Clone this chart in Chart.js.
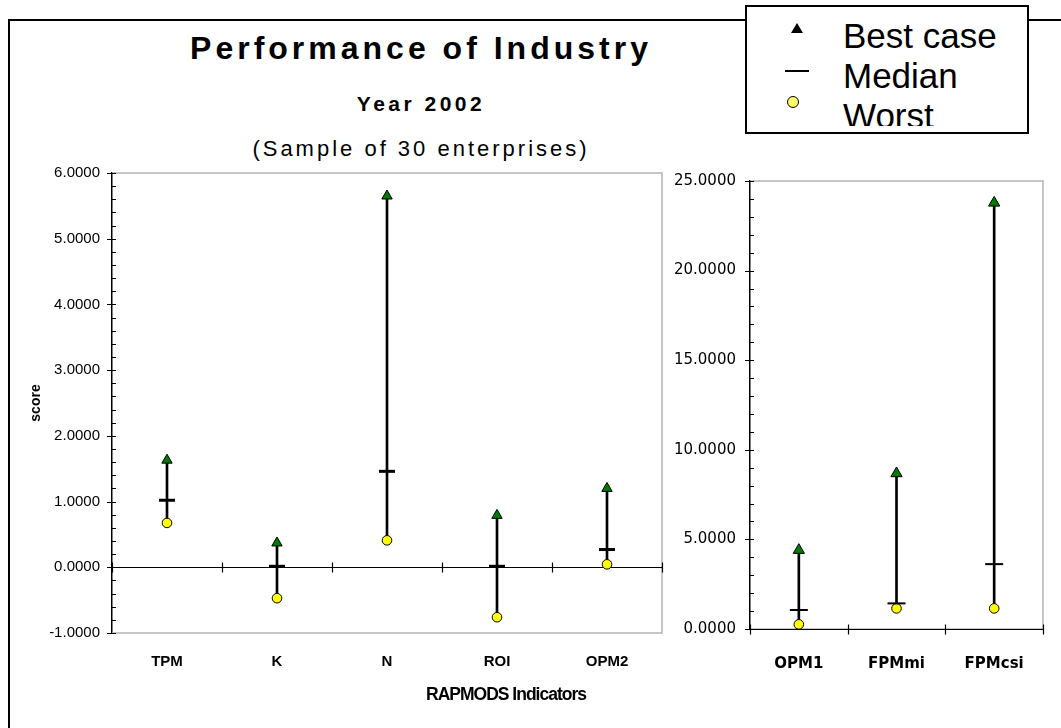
<!DOCTYPE html>
<html>
<head>
<meta charset="utf-8">
<title>Performance of Industry</title>
<script src="https://cdn.jsdelivr.net/npm/chart.js@4.4.1/dist/chart.umd.min.js"></script>
<style>
  html, body { margin: 0; padding: 0; background: #fff; }
  body { width: 1061px; height: 728px; position: relative; overflow: hidden; font-family: "Liberation Sans", Arial, sans-serif; }
  .frame { position: absolute; left: 8px; top: 19px; width: 1100px; height: 800px; border-left: 2px solid #000; border-top: 2px solid #000; }
  .ttl { position: absolute; left: 0; width: 842px; text-align: center; color: #000; white-space: nowrap; }
  #t1 { top: 30px; font-size: 32px; font-weight: bold; letter-spacing: 4px; }
  #t2 { top: 92px; font-size: 21px; font-weight: bold; letter-spacing: 3.5px; }
  #t3 { top: 136px; font-size: 22px; letter-spacing: 3px; }
  #xtitle { position: absolute; left: 350px; width: 312px; top: 684px; text-align: center; font-size: 17.5px; font-weight: bold; letter-spacing: -1px; }
  canvas { position: absolute; }
  #legend { position: absolute; left: 745px; top: 5px; width: 280px; height: 125px; border: 2px solid #000; background: #fff; z-index: 5; }
  #legend .clip { position: absolute; left: 0; top: 0; width: 280px; height: 119px; overflow: hidden; }
  .li { position: absolute; left: 96px; font-size: 35px; line-height: 35px; white-space: nowrap; }
  .tri { position: absolute; width: 0; height: 0; border-left: 6px solid transparent; border-right: 6px solid transparent; border-bottom: 10px solid #000; }
  .dash { position: absolute; width: 24px; height: 2px; background: #000; }
  .dot { position: absolute; width: 10px; height: 10px; border-radius: 50%; background: #ffff66; border: 1px solid #000; }
</style>
</head>
<body>
<div class="frame"></div>
<div class="ttl" id="t1">Performance of Industry</div>
<div class="ttl" id="t2">Year 2002</div>
<div class="ttl" id="t3">(Sample of 30 enterprises)</div>

<canvas id="leftChart" width="680" height="578" style="left:0;top:150px"></canvas>
<canvas id="rightChart" width="391" height="578" style="left:670px;top:150px"></canvas>
<div id="xtitle">RAPMODS Indicators</div>

<div id="legend">
  <div class="clip">
    <div class="tri" style="left:44px;top:16px"></div>
    <div class="li" style="top:11px">Best case</div>
    <div class="dash" style="left:38px;top:63px"></div>
    <div class="li" style="top:51px">Median</div>
    <div class="dot" style="left:40px;top:89px"></div>
    <div class="li" style="top:91px">Worst</div>
  </div>
</div>

<script>
// left panel
var leftCategories = ['TPM', 'K', 'N', 'ROI', 'OPM2'];
var leftBest = [1.63, 0.37, 5.65, 0.79, 1.20];
var leftMedian = [1.02, 0.015, 1.46, 0.015, 0.27];
var leftWorst = [0.675, -0.47, 0.41, -0.76, 0.045];
var leftTicks = [-1, 0, 1, 2, 3, 4, 5, 6];

// right panel
var rightCategories = ['OPM1', 'FPMmi', 'FPMcsi'];
var rightBest = [4.40, 8.68, 23.78];
var rightMedian = [1.06, 1.43, 3.62];
var rightWorst = [0.26, 1.15, 1.15];
var rightTicks = [0, 5, 10, 15, 20, 25];

// excel-like frame, cross ticks and zero line
var excelAxes = {
    id: 'excelAxes',
    beforeDatasetsDraw: function (chart, args, opts) {
        var ctx = chart.ctx, a = chart.chartArea;
        var x = chart.scales.x, y = chart.scales.y;
        ctx.save();
        ctx.strokeStyle = '#b4b4b4';
        ctx.lineWidth = 1.5;
        ctx.beginPath();
        ctx.moveTo(a.left, a.top);
        ctx.lineTo(a.right, a.top);
        ctx.lineTo(a.right, a.bottom);
        ctx.lineTo(a.left, a.bottom);
        ctx.stroke();

        ctx.strokeStyle = '#000';
        ctx.lineWidth = 1;
        var n = Math.round((y.max - y.min) / opts.minor);
        ctx.beginPath();
        for (var k = 0; k <= n; k++) {
            var v = y.min + k * opts.minor;
            var py = Math.round(y.getPixelForValue(v)) + 0.5;
            var isMajor = Math.abs(v / opts.major - Math.round(v / opts.major)) < 1e-6;
            ctx.moveTo(a.left - (isMajor ? 5 : 0), py);
            ctx.lineTo(a.left + 4, py);
        }
        ctx.stroke();

        var p0 = Math.round(y.getPixelForValue(0)) + 0.5;
        ctx.lineWidth = 1.2;
        ctx.beginPath();
        ctx.moveTo(a.left, p0);
        ctx.lineTo(a.right, p0);
        var half = (x.getPixelForValue(1) - x.getPixelForValue(0)) / 2;
        for (var i = 0; i <= x.getLabels().length; i++) {
            var px = Math.round(x.getPixelForValue(i) - half) + 0.5;
            ctx.moveTo(px, p0 - 5);
            ctx.lineTo(px, p0 + 5);
        }
        ctx.stroke();
        ctx.restore();
    }
};

function makeChart(id, cats, best, median, worst, ticks, cfg) {
    var ranges = worst.map(function (w, i) { return [w, best[i]]; });
    return new Chart(document.getElementById(id), {
        type: 'bar',
        data: {
            labels: cats,
            datasets: [{
                type: 'line', label: 'Best case', data: best, showLine: false,
                pointStyle: 'triangle', pointRadius: cfg.tri, backgroundColor: '#007a00',
                borderColor: '#000', borderWidth: 1
            }, {
                type: 'line', label: 'Median', data: median, showLine: false,
                pointStyle: 'line', pointRadius: cfg.med, borderColor: '#000', borderWidth: cfg.medWidth
            }, {
                type: 'line', label: 'Worst', data: worst, showLine: false,
                pointStyle: 'circle', pointRadius: 4.8, backgroundColor: '#ffff00',
                borderColor: '#000', borderWidth: 1
            }, {
                label: 'range', data: ranges, backgroundColor: '#000',
                barThickness: 2, borderWidth: 0, borderSkipped: false
            }]
        },
        options: {
            responsive: false,
            animation: false,
            events: [],
            layout: { padding: cfg.padding },
            plugins: {
                legend: { display: false },
                tooltip: { enabled: false },
                excelAxes: { major: ticks[1] - ticks[0], minor: cfg.minor }
            },
            scales: {
                x: {
                    grid: { display: false, drawTicks: false },
                    border: { display: false },
                    ticks: { color: '#000', padding: cfg.xPad, font: cfg.xFont, maxRotation: 0 },
                    afterFit: function (s) { s.height = cfg.xHeight; }
                },
                y: {
                    min: ticks[0], max: ticks[ticks.length - 1],
                    grid: { display: false, drawTicks: false },
                    border: { color: '#000', width: 1.5 },
                    afterBuildTicks: function (s) {
                        s.ticks = ticks.map(function (t) { return { value: t }; });
                    },
                    ticks: {
                        color: '#000', padding: cfg.yPad, font: cfg.yFont,
                        callback: function (v) { return Number(v).toFixed(4); }
                    },
                    title: cfg.yTitle,
                    afterFit: function (s) { s.width = cfg.yWidth; }
                }
            }
        },
        plugins: [excelAxes]
    });
}

makeChart('leftChart', leftCategories, leftBest, leftMedian, leftWorst, leftTicks, {
    tri: 6, med: 8, medWidth: 3, minor: 0.2,
    padding: { top: 23, right: 18, left: 0, bottom: 0 },
    xPad: 20, xHeight: 95, yWidth: 112, yPad: 12,
    xFont: { family: '"Liberation Sans", Arial, sans-serif', size: 15, weight: 'bold' },
    yFont: { family: '"Liberation Sans", Arial, sans-serif', size: 15 },
    yTitle: {
        display: true, text: 'score', color: '#000', padding: { top: 28, bottom: 0 },
        font: { family: '"Liberation Sans", Arial, sans-serif', size: 14, weight: 'bold' }
    }
});

makeChart('rightChart', rightCategories, rightBest, rightMedian, rightWorst, rightTicks, {
    tri: 6.5, med: 9, medWidth: 2, minor: 1,
    padding: { top: 31, right: 18, left: 0, bottom: 0 },
    xPad: 26, xHeight: 99, yWidth: 80, yPad: 14,
    xFont: { family: '"DejaVu Sans", Verdana, sans-serif', size: 15, weight: 'bold' },
    yFont: { family: '"DejaVu Sans", Verdana, sans-serif', size: 15 },
    yTitle: { display: false }
});
</script>
</body>
</html>
